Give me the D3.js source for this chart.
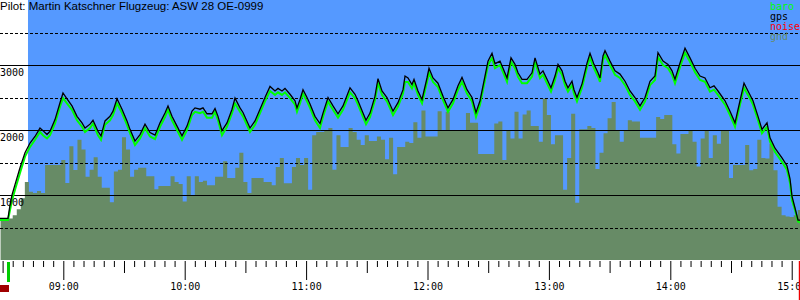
<!DOCTYPE html>
<html>
<head>
<meta charset="utf-8">
<script src="https://cdn.jsdelivr.net/npm/d3@7"></script>
<style>
  body { margin: 0; background: #fff; }
  svg { display: block; }
</style>
</head>
<body>
<svg id="barogramm"></svg>
<script>
// Flugdaten
const title = "Pilot: Martin Katschner Flugzeug: ASW 28 OE-0999";

const flightTimes = [
  "08:28:43","08:32:40","08:33:40","08:34:39","08:36:08","08:38:36","08:41:04","08:43:33","08:46:01","08:48:29",
  "08:49:58","08:51:57","08:53:26","08:55:54","08:58:22","08:59:51","09:01:50","09:04:18","09:06:46","09:09:15",
  "09:10:44","09:13:12","09:14:41","09:17:09","09:18:38","09:20:37","09:23:05","09:24:34","09:26:33","09:29:01",
  "09:31:29","09:32:58","09:35:26","09:37:55","09:40:23","09:42:51","09:45:19","09:47:48","09:50:16","09:51:45",
  "09:53:43","09:56:12","09:58:40","10:01:08","10:03:37","10:05:06","10:07:34","10:09:03","10:11:01","10:13:30",
  "10:14:59","10:16:28","10:18:26","10:20:54","10:23:23","10:24:52","10:27:20","10:28:49","10:32:17","10:34:45",
  "10:37:13","10:39:41","10:42:10","10:44:38","10:46:07","10:48:05","10:49:34","10:52:03","10:54:31","10:55:30",
  "10:56:59","10:58:28","11:00:27","11:01:56","11:04:24","11:06:52","11:08:21","11:10:50","11:13:18","11:15:46",
  "11:18:14","11:21:42","11:24:10","11:25:39","11:28:07","11:29:36","11:31:35","11:34:03","11:35:32","11:37:31",
  "11:39:59","11:42:57","11:45:25","11:47:54","11:48:53","11:50:22","11:52:20","11:53:20","11:55:18","11:57:17",
  "11:59:45","12:00:45","12:02:43","12:05:11","12:07:40","12:10:08","12:12:36","12:15:05","12:17:03","12:19:31",
  "12:22:00","12:23:58","12:25:57","12:28:25","12:29:54","12:31:53","12:33:22","12:35:50","12:37:19","12:39:18",
  "12:41:16","12:43:15","12:44:44","12:46:42","12:49:11","12:51:39","12:53:08","12:55:36","12:57:05","12:59:04",
  "13:01:02","13:03:01","13:04:30","13:06:29","13:07:58","13:09:26","13:11:25","13:12:24","13:13:53","13:16:22",
  "13:18:50","13:20:19","13:22:17","13:24:16","13:25:15","13:26:44","13:27:44","13:30:12","13:32:40","13:35:08",
  "13:37:37","13:40:05","13:42:33","13:45:02","13:47:30","13:49:58","13:52:26","13:53:55","13:56:24","13:58:52",
  "14:00:51","14:02:19","14:04:48","14:07:16","14:09:44","14:12:13","14:14:41","14:17:09","14:19:37","14:21:36",
  "14:23:35","14:27:02","14:29:30","14:31:59","14:34:27","14:36:26","14:38:24","14:40:52","14:43:21","14:45:19",
  "14:47:48","14:49:17","14:51:45","14:55:12","14:57:40","14:59:10","15:00:09","15:01:38","15:03:07","15:04:06"
];

const baro = [
  615,615,770,920,1080,1340,1590,1740,1850,1970,
  1920,1870,1920,2100,2360,2490,2410,2310,2150,2050,
  1970,2030,2100,1920,1850,2080,2150,2230,2410,2260,
  2080,1950,1770,1870,2030,1900,1860,2050,2200,2310,
  2150,2000,1850,2000,2230,2280,2260,2280,2190,2190,
  2280,2150,1920,2050,2260,2410,2280,2210,1970,2080,
  2260,2440,2600,2540,2580,2540,2580,2490,2390,2280,
  2410,2560,2440,2340,2150,2030,2200,2440,2310,2190,
  2310,2580,2490,2390,2200,2090,2200,2460,2720,2540,
  2440,2230,2360,2560,2740,2740,2640,2720,2540,2410,
  2740,2880,2740,2660,2460,2280,2410,2620,2740,2560,
  2440,2200,2390,2770,3000,3110,2950,3000,2890,2740,
  3050,2950,2820,2720,2720,2820,3050,2800,2850,2720,
  2590,2770,2950,2850,2690,2590,2690,2560,2440,2650,
  2970,3110,2950,2820,2740,3080,3150,3000,2850,2800,
  2690,2540,2440,2310,2440,2690,2770,3120,3000,2950,
  2850,2720,2970,3190,3050,2890,2770,2740,2590,2620,
  2540,2390,2230,2050,2390,2650,2540,2390,2150,1950,
  2050,1820,1660,1510,1390,1190,920,770,590,575
];

const gps = [
  640,640,850,1000,1160,1420,1650,1800,1900,2030,
  1990,1930,1980,2160,2420,2570,2480,2370,2210,2110,
  2030,2090,2150,1980,1910,2140,2210,2290,2480,2320,
  2140,2010,1830,1930,2090,1960,1920,2110,2260,2370,
  2210,2060,1910,2060,2290,2340,2320,2340,2250,2250,
  2330,2210,1990,2110,2320,2490,2340,2270,2030,2140,
  2320,2500,2670,2600,2640,2600,2640,2550,2450,2340,
  2470,2620,2500,2400,2210,2100,2260,2500,2370,2250,
  2370,2650,2550,2450,2260,2150,2260,2520,2790,2600,
  2500,2290,2420,2620,2830,2800,2700,2780,2600,2470,
  2800,2950,2800,2720,2520,2340,2470,2680,2810,2620,
  2500,2270,2450,2830,3060,3180,3020,3060,2950,2800,
  3110,3010,2880,2780,2780,2880,3110,2860,2910,2780,
  2650,2830,3010,2910,2750,2650,2750,2620,2500,2710,
  3030,3180,3010,2880,2800,3140,3220,3060,2910,2860,
  2750,2600,2500,2370,2500,2750,2830,3190,3060,3010,
  2910,2780,3030,3260,3110,2950,2830,2800,2650,2680,
  2600,2450,2290,2110,2450,2720,2600,2450,2210,2010,
  2110,1880,1720,1570,1450,1250,980,800,615,615
];

// Geländehöhe alle 2 Minuten ab 08:29
const gndStart = "08:29";
const gnd = [
  615,615,640,690,780,950,1200,1050,1030,1060,
  1030,1460,1460,1460,1460,1540,1185,1750,1385,1850,
  1700,1280,1390,1580,1280,1110,1110,890,1360,1390,
  1890,1700,1280,1390,1420,1420,1290,1290,1090,1140,
  1140,1140,1290,1200,1170,900,1290,1000,1290,1200,
  1220,1150,1150,1280,1280,1520,1260,1260,1420,1650,
  1200,1030,1260,1260,1260,1200,1200,1150,1430,1570,
  1180,1180,1430,1570,1460,1570,1080,1920,1970,1970,
  2000,2030,1390,1920,1740,1740,2030,1970,1850,1770,
  1920,1830,1830,1900,1850,1550,1880,1320,1740,1740,
  1820,1800,2120,1880,2300,1900,1900,1900,2290,2000,
  2280,2000,2000,2000,2000,2260,2110,2110,1630,1630,
  1630,1630,2100,2130,1540,2000,1870,2280,1870,2240,
  2300,2060,2060,1820,2480,2230,1780,1920,1920,1080,
  1570,2250,880,2010,2010,2060,2030,1400,1650,1950,
  2180,2430,2000,1820,2000,2150,2130,2130,1880,1880,
  1880,1880,2200,2170,2230,2230,1780,1640,1940,1940,
  2000,1820,1440,1870,2000,1570,1920,1790,2000,2000,
  1260,1460,1460,1460,1770,1380,1400,1850,1570,1560,
  1790,1380,820,690,670,660,690,770
];

// Achsen
const timeRange = ["08:28:43", "15:04:06"];
const skyStart = "08:42:33";
const takeoff = "08:32:40";
const landing = "15:03:30";
const solidLevels = [1000, 2000, 3000];
const dashedLevels = [500, 1500, 2500, 3500];
const legendNames = ["baro", "gps", "noise", "gnd"];
const legendColors = ["#00ff00", "#000000", "#ff0000", "#678b66"];

const width = 800;
const height = 300;
const plotBottom = 260;

var parse = d3.timeParse("%H:%M:%S");
var parseHM = d3.timeParse("%H:%M");

var svg = d3.select("#barogramm")
              .attr("width", width)
              .attr("height", height)
              .style("font-family", "'DejaVu Sans Mono', monospace");

var x = d3.scaleTime()
            .domain(timeRange.map(parse))
            .range([0, width]);

var y = d3.scaleLinear()
            .domain([0, 4000])
            .range([plotBottom, 0]);

// Himmel
svg.append("rect")
    .attr("x", x(parse(skyStart)))
    .attr("y", 0)
    .attr("width", width - x(parse(skyStart)))
    .attr("height", plotBottom)
    .attr("fill", "#5599ff");

// Gelände
var t0 = parseHM(gndStart);
var gndData = gnd.map(function(v, i) {
    return {t: d3.timeMinute.offset(t0, 2 * i), v: v};
});
gndData.push({t: parse(timeRange[1]), v: gnd[gnd.length - 1]});

svg.append("path")
    .datum(gndData)
    .attr("fill", "#678b66")
    .attr("d", d3.area()
        .curve(d3.curveStepAfter)
        .x(function(d) {return x(d.t);})
        .y0(y(0))
        .y1(function(d) {return y(d.v);}));

// Gitterlinien
svg.selectAll("line.solid")
    .data(solidLevels)
    .enter().append("line")
    .attr("class", "solid")
    .attr("x1", 0).attr("x2", width)
    .attr("y1", function(d) {return Math.round(y(d)) + 0.5;})
    .attr("y2", function(d) {return Math.round(y(d)) + 0.5;})
    .attr("stroke", "#000");

svg.selectAll("line.dashed")
    .data(dashedLevels)
    .enter().append("line")
    .attr("class", "dashed")
    .attr("x1", 0).attr("x2", width)
    .attr("y1", function(d) {return Math.round(y(d)) + 0.5;})
    .attr("y2", function(d) {return Math.round(y(d)) + 0.5;})
    .attr("stroke", "#000")
    .attr("stroke-dasharray", "3,2");

// Höhenkurven
var flight = flightTimes.map(function(s, i) {
    return {t: parse(s), baro: baro[i], gps: gps[i]};
});

svg.append("path")
    .datum(flight)
    .attr("fill", "none")
    .attr("stroke", "#00ff00")
    .attr("stroke-width", 2)
    .attr("d", d3.line()
        .x(function(d) {return x(d.t);})
        .y(function(d) {return y(d.baro);}));

svg.append("path")
    .datum(flight)
    .attr("fill", "none")
    .attr("stroke", "#000")
    .attr("stroke-width", 1.3)
    .attr("d", d3.line()
        .x(function(d) {return x(d.t);})
        .y(function(d) {return y(d.gps);}));

// Höhenbeschriftung
svg.selectAll("text.alt")
    .data(solidLevels)
    .enter().append("text")
    .attr("class", "alt")
    .attr("x", 0)
    .attr("y", function(d) {return Math.round(y(d)) + 11;})
    .attr("font-size", 10)
    .text(function(d) {return d;});

// Titel
svg.append("text")
    .attr("x", 0)
    .attr("y", 10)
    .attr("font-family", "'Liberation Sans', Arial, sans-serif")
    .attr("font-size", 11.5)
    .text(title);

// Legende
svg.selectAll("text.legend")
    .data(legendNames)
    .enter().append("text")
    .attr("class", "legend")
    .attr("x", 770)
    .attr("y", function(d, i) {return 10 + i * 10;})
    .attr("font-size", 10)
    .attr("fill", function(d, i) {return legendColors[i];})
    .text(function(d) {return d;});

// Zeitachse
var axis = svg.append("g")
    .attr("transform", "translate(0," + (plotBottom + 1) + ")")
    .call(d3.axisBottom(x)
        .ticks(d3.timeMinute.every(5))
        .tickSize(6)
        .tickFormat(function(d) {return d.getMinutes() === 0 ? d3.timeFormat("%H:%M")(d) : "";}));

axis.select(".domain").remove();
axis.selectAll(".tick line")
    .attr("y2", function(d) {
        if (d.getMinutes() === 0) return 19;
        if (d.getMinutes() === 30) return 12;
        return 6;
    });
axis.selectAll(".tick text")
    .attr("y", 29)
    .attr("dy", 0)
    .attr("font-size", 10)
    .attr("font-family", "'DejaVu Sans Mono', monospace")
    .attr("fill", "#000");

// Start / Landung
svg.append("rect")
    .attr("x", x(parse(takeoff)) - 1)
    .attr("y", plotBottom + 2)
    .attr("width", 3)
    .attr("height", 20)
    .attr("fill", "#00cc00");

svg.append("rect")
    .attr("x", 0)
    .attr("y", 285)
    .attr("width", x(parse(takeoff)) + 1)
    .attr("height", 7)
    .attr("fill", "#a00000");

svg.append("rect")
    .attr("x", x(parse(landing)))
    .attr("y", plotBottom + 1)
    .attr("width", 3)
    .attr("height", height - plotBottom - 1)
    .attr("fill", "#ee0000");
</script>
</body>
</html>
